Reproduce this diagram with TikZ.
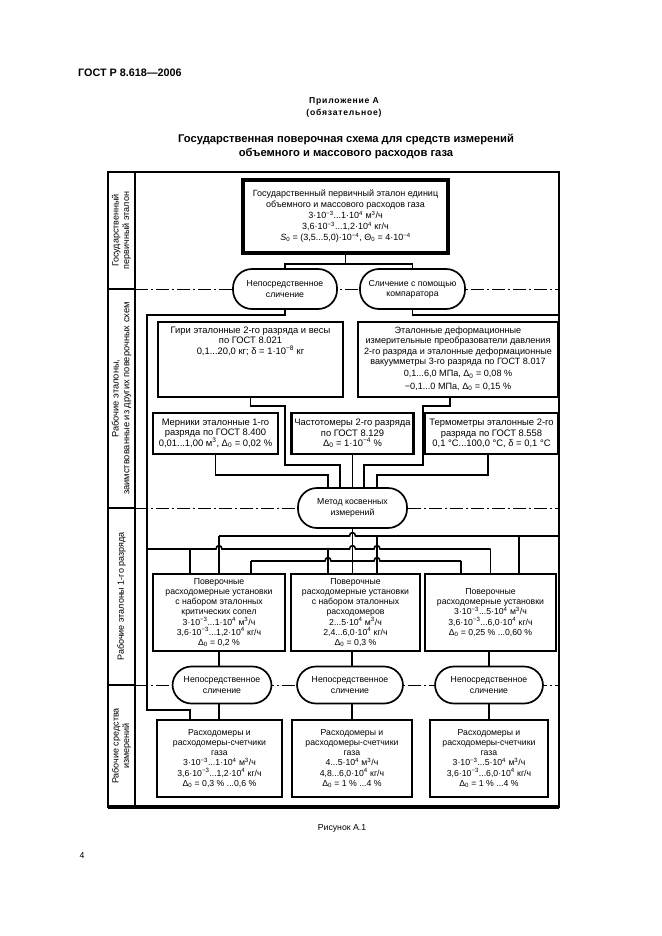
\documentclass[tikz,border=0pt]{standalone}
\usepackage{fontspec}
\setmainfont{Liberation Sans}
\setsansfont{Liberation Sans}
\usepackage{tikz}
\usetikzlibrary{positioning}
\tikzset{
  frame/.style={line width=2.6pt},
  cell/.style={line width=1.5pt},
  level/.style={line width=0.7pt, dash pattern=on 13pt off 3pt on 2pt off 3pt},
  link/.style={line width=1.6pt},
  txt/.style={align=center, inner sep=0pt, font=\fontsize{8.7}{10.2}\selectfont},
  big/.style={font=\fontsize{9.4}{10.4}\selectfont},
  box/.style={txt, draw, line width=2.4pt, fill=white, inner sep=2pt},
  oval/.style={txt, draw, line width=1.7pt, fill=white, rounded corners=19pt, minimum height=40pt},
  side/.style={txt, rotate=90, font=\fontsize{9}{10.5}\selectfont},
  head/.style={font=\bfseries\fontsize{11.2}{14}\selectfont, align=center, inner sep=0pt}
}
% bridge over a crossing line
\newcommand\hop[2]{-- ({#1-3},#2) .. controls ({#1-3},{#2-4.5}) and ({#1+3},{#2-4.5}) .. ({#1+3},#2)}
\begin{document}
\begin{tikzpicture}[x=1pt, y=-1pt]
\useasboundingbox (0,0) rectangle (661,936);

% page head
\node[head, anchor=west, font=\bfseries\fontsize{10.8}{14}\selectfont] (gost) at (78,73) {ГОСТ Р 8.618—2006};
\node[font=\bfseries\fontsize{8.6}{12}\selectfont\addfontfeature{LetterSpace=9}, align=center, inner sep=0pt] (annex) at (344,107) {Приложение А\\(обязательное)};
\node[head] (title) at (346,146) {Государственная поверочная схема для средств измерений\\объемного и массового расходов газа};

% frame and levels
\draw[level] (135,289) -- (559,289);
\draw[level] (135,508) -- (559,508);
\draw[level] (135,685) -- (559,685);
\draw[frame] (108,172) rectangle (559,807);
\draw[line width=4pt] (108,807) -- (559,807);
\draw[frame] (135,172) -- (135,807);
\draw[cell] (108,289) -- (135,289);
\draw[cell] (108,508) -- (135,508);
\draw[cell] (108,685) -- (135,685);
\node[side] (lv1) at (121.5,230.5) {Государственный\\первичный эталон};
\node[side, font=\fontsize{9.3}{10.8}\selectfont] (lv2) at (121.5,398.5) {Рабочие эталоны,\\заимствованные из других поверочных схем};
\node[side] (lv3) at (121.5,596.5) {Рабочие эталоны 1-го разряда};
\node[side] (lv4) at (121.5,746) {Рабочие средства\\измерений};

% primary standard
\node[box, line width=3.6pt, minimum width=205pt, minimum height=73pt, font=\fontsize{9}{11}\selectfont] (etalon) at (345.5,216.5)
  {Государственный первичный эталон единиц\\объемного и массового расходов газа\\
   3·10\textsuperscript{−3}...1·10\textsuperscript{4} м\textsuperscript{3}/ч\\
   3,6·10\textsuperscript{−3}...1,2·10\textsuperscript{4} кг/ч\\
   \textit{S}\textsubscript{0} = (3,5...5,0)·10\textsuperscript{−4}, Θ\textsubscript{0} = 4·10\textsuperscript{−4}};
\node[oval, minimum width=104pt] (nep) at (285,289) {Непосредственное\\сличение};
\node[oval, minimum width=105pt] (komp) at (412.5,289) {Сличение с помощью\\компаратора};

% borrowed standards
\node[box, minimum width=185pt, minimum height=75pt] (giri) at (250.5,359.5) {};
\node[txt, big, below=6pt of giri.north] (giritxt) {Гири эталонные 2-го разряда и весы\\по ГОСТ 8.021\\
  0,1...20,0 кг; δ = 1·10\textsuperscript{−8} кг};
\node[box, minimum width=200pt, minimum height=75pt] (def) at (458,359.5) {};
\node[txt, font=\fontsize{9.1}{10.3}\selectfont, below=6pt of def.north] (deftxt) {Эталонные деформационные\\измерительные преобразователи давления\\
  2-го разряда и эталонные деформационные\\вакуумметры 3-го разряда по ГОСТ 8.017\\[2pt]
  0,1...6,0 МПа, Δ\textsubscript{0} = 0,08 \%\\[2pt]
  −0,1...0 МПа, Δ\textsubscript{0} = 0,15 \%};
\node[box, big, minimum width=125pt, minimum height=41pt] (mern) at (215.5,433.5)
  {Мерники эталонные 1-го\\разряда по ГОСТ 8.400\\0,01...1,00 м\textsuperscript{3}, Δ\textsubscript{0} = 0,02 \%};
\node[box, big, minimum width=122pt, minimum height=41pt] (chast) at (352.5,433.5)
  {Частотомеры 2-го разряда\\по ГОСТ 8.129\\Δ\textsubscript{0} = 1·10\textsuperscript{−4} \%};
\node[box, big, minimum width=133pt, minimum height=41pt] (term) at (491.5,433.5)
  {Термометры эталонные 2-го\\разряда по ГОСТ 8.558\\0,1 °C...100,0 °C, δ = 0,1 °C};
\node[oval, minimum width=109pt] (kosv) at (352.5,508) {Метод косвенных\\измерений};

% first rank standards
\node[box, line width=2pt, minimum width=132pt, minimum height=77pt] (ust1) at (219,612.5)
  {Поверочные\\расходомерные установки\\с набором эталонных\\критических сопел\\
   3·10\textsuperscript{−3}...1·10\textsuperscript{4} м\textsuperscript{3}/ч\\
   3,6·10\textsuperscript{−3}...1,2·10\textsuperscript{4} кг/ч\\Δ\textsubscript{0} = 0,2 \%};
\node[box, line width=2pt, minimum width=129pt, minimum height=77pt] (ust2) at (355.5,612.5)
  {Поверочные\\расходомерные установки\\с набором эталонных\\расходомеров\\
   2...5·10\textsuperscript{4} м\textsuperscript{3}/ч\\
   2,4...6,0·10\textsuperscript{4} кг/ч\\Δ\textsubscript{0} = 0,3 \%};
\node[box, line width=2pt, minimum width=131pt, minimum height=77pt] (ust3) at (490.5,612.5)
  {Поверочные\\расходомерные установки\\
   3·10\textsuperscript{−3}...5·10\textsuperscript{4} м\textsuperscript{3}/ч\\
   3,6·10\textsuperscript{−3}...6,0·10\textsuperscript{4} кг/ч\\Δ\textsubscript{0} = 0,25 \% ...0,60 \%};
\node[oval, minimum width=99pt, minimum height=37pt] (sl1) at (222,685) {Непосредственное\\сличение};
\node[oval, minimum width=106pt, minimum height=37pt] (sl2) at (350,685) {Непосредственное\\сличение};
\node[oval, minimum width=108pt, minimum height=37pt] (sl3) at (489,685) {Непосредственное\\сличение};

% working instruments
\node[box, minimum width=125pt, minimum height=77pt] (ras1) at (219.5,758.5)
  {Расходомеры и\\расходомеры-счетчики\\газа\\
   3·10\textsuperscript{−3}...1·10\textsuperscript{4} м\textsuperscript{3}/ч\\
   3,6·10\textsuperscript{−3}...1,2·10\textsuperscript{4} кг/ч\\Δ\textsubscript{0} = 0,3 \% ...0,6 \%};
\node[box, minimum width=120pt, minimum height=77pt] (ras2) at (352,758.5)
  {Расходомеры и\\расходомеры-счетчики\\газа\\
   4...5·10\textsuperscript{4} м\textsuperscript{3}/ч\\
   4,8...6,0·10\textsuperscript{4} кг/ч\\Δ\textsubscript{0} = 1 \% ...4 \%};
\node[box, minimum width=118pt, minimum height=77pt] (ras3) at (489,758.5)
  {Расходомеры и\\расходомеры-счетчики\\газа\\
   3·10\textsuperscript{−3}...5·10\textsuperscript{4} м\textsuperscript{3}/ч\\
   3,6·10\textsuperscript{−3}...6,0·10\textsuperscript{4} кг/ч\\Δ\textsubscript{0} = 1 \% ...4 \%};

% primary standard to comparisons
\draw[link] (etalon.south) -- ++(0,9) coordinate (fork);
\draw[link] (nep.north) |- (fork) -| (komp.north);
% side rails
\draw[link] (nep.south) |- (147,315) -- (147,710) -| ([xshift=-29.5pt]ras1.north);
\draw[link] (komp.south) |- (559,315) -- (559,536);
% into indirect method
\draw[link] (mern.south) |- (328,475) -- ([xshift=-24.5pt]kosv.north);
\draw[link] (giri.south) |- (285,406) -- (285,465) -| ([xshift=-12.5pt]kosv.north);
\draw[link] (chast.south) -- (kosv.north);
\draw[link] ([xshift=-8pt]def.south) |- (423,406) -- (423,465) -| ([xshift=11.5pt]kosv.north);
\draw[link] ([xshift=-3.5pt]term.south) |- (377,475) -- ([xshift=24.5pt]kosv.north);
% bus from comparator
\draw[link] (219,536) \hop{352.5}{536} -- (559,536);
\draw[link] (219,536) -- (ust1.north);
\draw[link] (377,536) -- ([xshift=21.5pt]ust2.north);
\draw[link] (519,536) -- ([xshift=28.5pt]ust3.north);
% bus from direct comparison
\draw[link] (147,549) \hop{219}{549} \hop{352.5}{549} \hop{377}{549} -- (490.5,549);
\draw[link] (190,549) -- ([xshift=-29pt]ust1.north);
\draw[link] (328,549) -- ([xshift=-27.5pt]ust2.north);
\draw[link] (490.5,549) -- (ust3.north);
% bus from indirect method
\draw[link] (kosv.south) -- (kosv.south |- ust2.north);
\draw[link] (251,561) \hop{328}{561} \hop{377}{561} -- (461,561);
\draw[link] (251,561) -- ([xshift=32pt]ust1.north);
\draw[link] (461,561) -- ([xshift=-29.5pt]ust3.north);
% down to working instruments
\draw[link] (ust1.south) -- (ust1.south |- sl1.north);
\draw[link] (ust1.south |- sl1.south) -- (ust1.south |- ras1.north);
\draw[link] (ras2.north |- ust2.south) -- (ras2.north |- sl2.north);
\draw[link] (ras2.north |- sl2.south) -- (ras2.north);
\draw[link] (ras3.north |- ust3.south) -- (ras3.north |- sl3.north);
\draw[link] (ras3.north |- sl3.south) -- (ras3.north);

\node[txt] (caption) at (342,828) {Рисунок А.1};
\node[txt] (page) at (82,855) {4};
\end{tikzpicture}
\end{document}
